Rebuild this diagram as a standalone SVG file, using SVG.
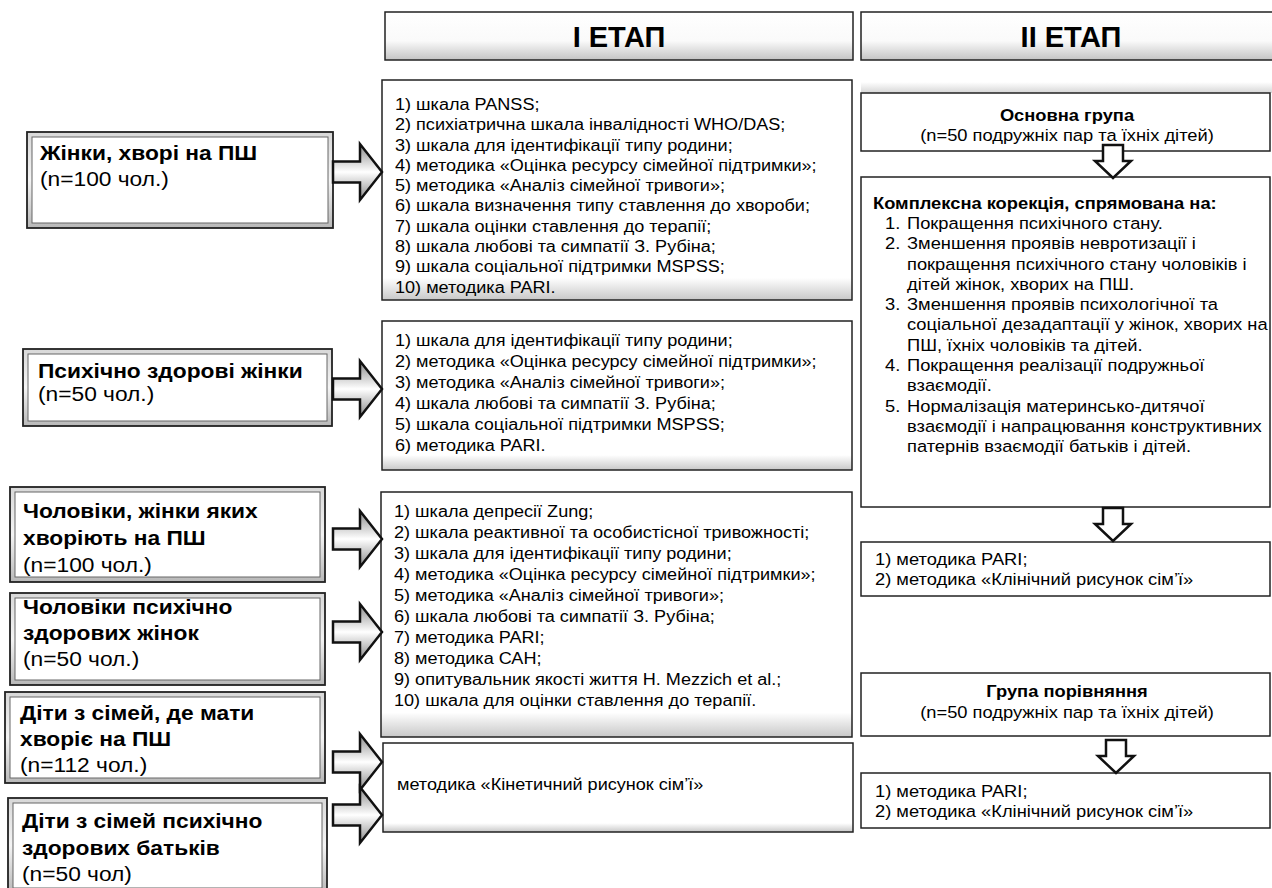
<svg xmlns="http://www.w3.org/2000/svg" width="1272" height="888" viewBox="0 0 1272 888">
<defs>
<linearGradient id="hdrG" x1="0" y1="0" x2="0" y2="1"><stop offset="0" stop-color="#fff"/><stop offset="0.6" stop-color="#fafafa"/><stop offset="1" stop-color="#c4c4c4"/></linearGradient>
<linearGradient id="boxG" x1="0" y1="0" x2="0" y2="1"><stop offset="0" stop-color="#fff"/><stop offset="0.9" stop-color="#fff"/><stop offset="1" stop-color="#c8c8c8"/></linearGradient>
<linearGradient id="bevG" x1="0" y1="0" x2="0" y2="1"><stop offset="0" stop-color="#d8d8d8"/><stop offset="0.5" stop-color="#f4f4f4"/><stop offset="1" stop-color="#b8b8b8"/></linearGradient>
<linearGradient id="arrG" x1="0" y1="0" x2="0" y2="1"><stop offset="0" stop-color="#8a8a8a"/><stop offset="0.5" stop-color="#fff"/><stop offset="1" stop-color="#8a8a8a"/></linearGradient>
<linearGradient id="topG" x1="0" y1="0" x2="0" y2="1"><stop offset="0" stop-color="#fff"/><stop offset="1" stop-color="#d6d6d6"/></linearGradient>
<path id="rarr" d="M0,-10.5 L27,-10.5 L27,-28 L49,0 L27,28 L27,10.5 L0,10.5 Z"/>
<path id="darr" d="M-10,0 L10,0 L10,16 L18,16 L0,33 L-18,16 L-10,16 Z"/>
</defs>
<style>
text{font-family:"Liberation Sans",Arial,sans-serif;fill:#000}
.hdr{font-size:29px;font-weight:bold;text-anchor:middle}
.lb{font-size:20.5px;font-weight:bold}
.lr{font-size:20.5px}
.m{font-size:16px}
.r{font-size:16.5px}
.rb{font-size:16.5px;font-weight:bold}
.c{text-anchor:middle}
.hbox{fill:url(#hdrG);stroke:#222;stroke-width:1.5}
.mbox{fill:url(#boxG);stroke:#222;stroke-width:1.5}
.rbox{fill:#fff;stroke:#222;stroke-width:1.5}
.shade{fill:url(#topG)}
.outer{fill:url(#bevG);stroke:#222;stroke-width:1.8}
.inner{fill:#fff;stroke:#666;stroke-width:1}
.ra{fill:url(#arrG);stroke:#111;stroke-width:2.5;stroke-linejoin:miter}
.da{fill:#fff;stroke:#111;stroke-width:2.5;stroke-linejoin:miter}
</style>

<g id="stage1">
<rect class="hbox" x="385" y="12" width="468" height="48"/>
<text class="hdr" x="619" y="47">І ЕТАП</text>
</g>
<g id="stage2">
<rect class="hbox" x="861" y="12" width="420" height="48"/>
<text class="hdr" x="1071" y="47">ІІ ЕТАП</text>
</g>

<g id="women-sz">
<rect class="outer" x="27" y="132" width="306" height="96"/>
<rect class="inner" x="32" y="137" width="296" height="86"/>
<g transform="translate(40,0) scale(1.11,1)">
<text class="lb" x="0" y="160">Жінки, хворі на ПШ</text>
<text class="lr" x="0" y="186">(n=100 чол.)</text>
</g>
</g>
<g id="women-healthy">
<rect class="outer" x="23" y="349" width="309" height="77"/>
<rect class="inner" x="28" y="354" width="299" height="67"/>
<g transform="translate(38,0) scale(1.11,1)">
<text class="lb" x="0" y="378">Психічно здорові жінки</text>
<text class="lr" x="0" y="401">(n=50 чол.)</text>
</g>
</g>
<g id="men-sz">
<rect class="outer" x="10" y="487" width="315" height="95"/>
<rect class="inner" x="15" y="492" width="305" height="85"/>
<g transform="translate(23,0) scale(1.11,1)">
<text class="lb" x="0" y="518">Чоловіки, жінки яких</text>
<text class="lb" x="0" y="545">хворіють на ПШ</text>
<text class="lr" x="0" y="572">(n=100 чол.)</text>
</g>
</g>
<g id="men-healthy">
<rect class="outer" x="10" y="593" width="315" height="92"/>
<rect class="inner" x="15" y="598" width="305" height="82"/>
<g transform="translate(23,0) scale(1.11,1)">
<text class="lb" x="0" y="614">Чоловіки психічно</text>
<text class="lb" x="0" y="640">здорових жінок</text>
<text class="lr" x="0" y="666">(n=50 чол.)</text>
</g>
</g>
<g id="children-sz">
<rect class="outer" x="5" y="692" width="320" height="91"/>
<rect class="inner" x="10" y="697" width="310" height="81"/>
<g transform="translate(20,0) scale(1.11,1)">
<text class="lb" x="0" y="720">Діти з сімей, де мати</text>
<text class="lb" x="0" y="746">хворіє на ПШ</text>
<text class="lr" x="0" y="772">(n=112 чол.)</text>
</g>
</g>
<g id="children-healthy">
<rect class="outer" x="8" y="798" width="319" height="95"/>
<rect class="inner" x="13" y="803" width="309" height="85"/>
<g transform="translate(22,0) scale(1.11,1)">
<text class="lb" x="0" y="828">Діти з сімей психічно</text>
<text class="lb" x="0" y="855">здорових батьків</text>
<text class="lr" x="0" y="881">(n=50 чол)</text>
</g>
</g>

<g id="methods1">
<rect class="mbox" x="382" y="80" width="470" height="220"/>
<g transform="translate(395,0) scale(1.13,1)">
<text class="m" x="0" y="110">1) шкала PANSS;</text>
<text class="m" x="0" y="130.3">2) психіатрична шкала інвалідності WHO/DAS;</text>
<text class="m" x="0" y="150.6">3) шкала для ідентифікації типу родини;</text>
<text class="m" x="0" y="170.9">4) методика «Оцінка ресурсу сімейної підтримки»;</text>
<text class="m" x="0" y="191.2">5) методика «Аналіз сімейної тривоги»;</text>
<text class="m" x="0" y="211.5">6) шкала визначення типу ставлення до хвороби;</text>
<text class="m" x="0" y="231.8">7) шкала оцінки ставлення до терапії;</text>
<text class="m" x="0" y="252.1">8) шкала любові та симпатії З. Рубіна;</text>
<text class="m" x="0" y="272.4">9) шкала соціальної підтримки MSPSS;</text>
<text class="m" x="0" y="292.7">10) методика PARI.</text>
</g>
</g>
<g id="methods2">
<rect class="mbox" x="382" y="321" width="470" height="149"/>
<g transform="translate(395,0) scale(1.13,1)">
<text class="m" x="0" y="346">1) шкала для ідентифікації типу родини;</text>
<text class="m" x="0" y="367">2) методика «Оцінка ресурсу сімейної підтримки»;</text>
<text class="m" x="0" y="388">3) методика «Аналіз сімейної тривоги»;</text>
<text class="m" x="0" y="409">4) шкала любові та симпатії З. Рубіна;</text>
<text class="m" x="0" y="430">5) шкала соціальної підтримки MSPSS;</text>
<text class="m" x="0" y="451">6) методика PARI.</text>
</g>
</g>
<g id="methods3">
<rect class="mbox" x="381" y="492" width="471" height="245"/>
<g transform="translate(394,0) scale(1.13,1)">
<text class="m" x="0" y="517">1) шкала депресії Zung;</text>
<text class="m" x="0" y="538">2) шкала реактивної та особистісної тривожності;</text>
<text class="m" x="0" y="559">3) шкала для ідентифікації типу родини;</text>
<text class="m" x="0" y="580">4) методика «Оцінка ресурсу сімейної підтримки»;</text>
<text class="m" x="0" y="601">5) методика «Аналіз сімейної тривоги»;</text>
<text class="m" x="0" y="622">6) шкала любові та симпатії З. Рубіна;</text>
<text class="m" x="0" y="643">7) методика PARI;</text>
<text class="m" x="0" y="664">8) методика САН;</text>
<text class="m" x="0" y="685">9) опитувальник якості життя H. Mezzich et al.;</text>
<text class="m" x="0" y="706">10) шкала для оцінки ставлення до терапії.</text>
</g>
</g>
<g id="methods4">
<rect class="mbox" x="383" y="743" width="470" height="89"/>
<g transform="translate(397,0) scale(1.13,1)">
<text class="m" x="0" y="790">методика «Кінетичний рисунок сім’ї»</text>
</g>
</g>

<g id="main-group">
<rect class="shade" x="861" y="82" width="411" height="11"/>
<rect class="rbox" x="861" y="93" width="409" height="58"/>
<g transform="translate(1067,0) scale(1.11,1)">
<text class="rb c" x="0" y="121">Основна група</text>
<text class="r c" x="0" y="141">(n=50 подружніх пар та їхніх дітей)</text>
</g>
</g>
<g id="correction">
<rect class="rbox" x="861" y="177" width="409" height="330"/>
<g transform="translate(873,0) scale(1.11,1)">
<text class="rb" x="0" y="209">Комплексна корекція, спрямована на:</text>
</g>
<g transform="translate(885,0) scale(1.11,1)">
<text class="r" x="0" y="229">1.</text>
<text class="r" x="0" y="249.3">2.</text>
<text class="r" x="0" y="310.2">3.</text>
<text class="r" x="0" y="371.1">4.</text>
<text class="r" x="0" y="411.7">5.</text>
</g>
<g transform="translate(907,0) scale(1.11,1)">
<text class="r" x="0" y="229">Покращення психічного стану.</text>
<text class="r" x="0" y="249.3">Зменшення проявів невротизації і</text>
<text class="r" x="0" y="269.6">покращення психічного стану чоловіків і</text>
<text class="r" x="0" y="289.9">дітей жінок, хворих на ПШ.</text>
<text class="r" x="0" y="310.2">Зменшення проявів психологічної та</text>
<text class="r" x="0" y="330.5">соціальної дезадаптації у жінок, хворих на</text>
<text class="r" x="0" y="350.8">ПШ, їхніх чоловіків та дітей.</text>
<text class="r" x="0" y="371.1">Покращення реалізації подружньої</text>
<text class="r" x="0" y="391.4">взаємодії.</text>
<text class="r" x="0" y="411.7">Нормалізація материнсько-дитячої</text>
<text class="r" x="0" y="432">взаємодії і напрацювання конструктивних</text>
<text class="r" x="0" y="452.3">патернів взаємодії  батьків і дітей.</text>
</g>
</g>
<g id="main-methods">
<rect class="rbox" x="861" y="542" width="409" height="54"/>
<g transform="translate(875,0) scale(1.11,1)">
<text class="r" x="0" y="565">1) методика PARI;</text>
<text class="r" x="0" y="585">2) методика «Клінічний рисунок сім’ї»</text>
</g>
</g>
<g id="comparison-group">
<rect class="rbox" x="861" y="673" width="409" height="63"/>
<g transform="translate(1067,0) scale(1.11,1)">
<text class="rb c" x="0" y="697">Група порівняння</text>
<text class="r c" x="0" y="718">(n=50 подружніх пар та їхніх дітей)</text>
</g>
</g>
<g id="comparison-methods">
<rect class="rbox" x="861" y="773" width="409" height="55"/>
<g transform="translate(875,0) scale(1.11,1)">
<text class="r" x="0" y="797">1) методика PARI;</text>
<text class="r" x="0" y="817">2) методика «Клінічний рисунок сім’ї»</text>
</g>
</g>

<g id="connectors">
<use href="#rarr" class="ra" x="333" y="172"/>
<use href="#rarr" class="ra" x="333" y="389"/>
<use href="#rarr" class="ra" x="333" y="539"/>
<use href="#rarr" class="ra" x="333" y="632"/>
<use href="#rarr" class="ra" x="333" y="762"/>
<use href="#rarr" class="ra" x="333" y="815"/>
<use href="#darr" class="da" x="1113" y="145"/>
<use href="#darr" class="da" x="1113" y="508"/>
<use href="#darr" class="da" x="1116" y="740"/>
</g>
</svg>
